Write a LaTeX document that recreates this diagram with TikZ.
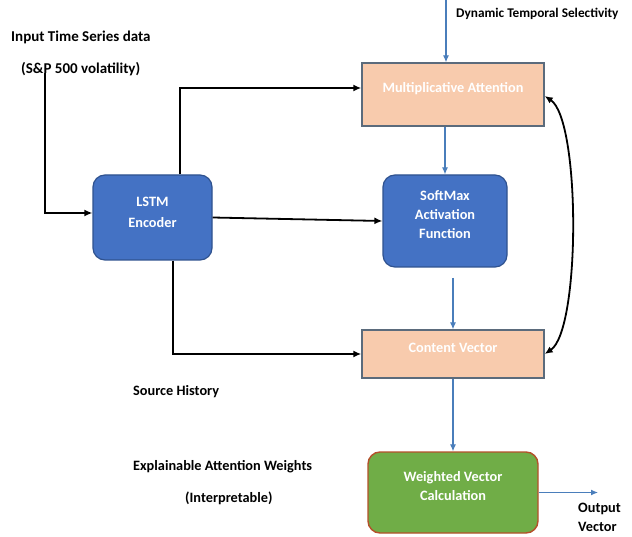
\documentclass[tikz,border=0pt]{standalone}
\usepackage{fontspec}
\setmainfont{Carlito}
\usetikzlibrary{arrows.meta}
\definecolor{peach}{HTML}{F8CBAD}
\definecolor{peachline}{HTML}{5B6B7C}
\definecolor{boxblue}{HTML}{4472C4}
\definecolor{boxblueline}{HTML}{2F528F}
\definecolor{boxgreen}{HTML}{70AD47}
\definecolor{greenline}{HTML}{B4502A}
\definecolor{arrblue}{HTML}{4A7EBB}
\begin{document}
\begin{tikzpicture}[x=1pt,y=-1pt,
  every node/.style={font=\bfseries\fontsize{14.3}{17}\selectfont, inner sep=0pt},
  lbl/.style={anchor=west, text=black},
  peachbox/.style={draw=peachline, line width=1.4pt, fill=peach, text=white},
  bluebox/.style={draw=boxblueline, line width=1.2pt, fill=boxblue, text=white, rounded corners=12pt, align=center},
  greenbox/.style={draw=greenline, line width=1.4pt, fill=boxgreen, text=white, rounded corners=12pt, align=center},
  blk/.style={draw=black, line width=1.8pt, -{Latex[length=8pt,width=7pt]}},
  blu/.style={draw=arrblue, line width=1.1pt, -{Latex[length=7pt,width=6pt]}},
]
\useasboundingbox[fill=white] (0,0) rectangle (632,537);

% boxes
\node[peachbox, minimum width=182pt, minimum height=63pt, text depth=14pt] (MA) at (453,94.5) {Multiplicative Attention};
\node[peachbox, minimum width=182pt, minimum height=48pt, text depth=12pt] (CV) at (453,354) {Content Vector};
\node[bluebox, minimum width=119pt, minimum height=85pt, text height=30.2pt, text depth=10pt] (LSTM) at (152.5,217.5) {LSTM\\[4pt]Encoder};
\node[bluebox, minimum width=124pt, minimum height=92pt, text height=45.2pt, text depth=10pt] (SM) at (445,221) {SoftMax\\[2pt]Activation\\[2pt]Function};
\node[greenbox, minimum width=170pt, minimum height=81pt, text height=26.2pt, text depth=10pt] (WV) at (453,492.5) {Weighted Vector\\[2pt]Calculation};

% labels
\node[lbl, font=\bfseries\fontsize{13.3}{16}\selectfont] (ltop) at (456,14) {Dynamic Temporal Selectivity};
\node[lbl, font=\bfseries\fontsize{15}{18}\selectfont] (lin1) at (11,37) {Input Time Series data};
\node[lbl, font=\bfseries\fontsize{15}{18}\selectfont] (lin2) at (21,69) {(S\&P 500 volatility)};
\node[lbl] (lsrc) at (133,392) {Source History};
\node[lbl] (lexp) at (133,467) {Explainable Attention Weights};
\node[lbl] (lint) at (185,498) {(Interpretable)};
\node[lbl, align=left] (lout) at (578,517) {Output\\[2pt]Vector};

% coordinates
\coordinate (dtop) at (446,0);
\coordinate (instart) at (45,73);
\coordinate (smout) at (453,278);
\coordinate (outend) at (598,492.5);

% blue arrows
\draw[blu] (dtop) -- (dtop |- MA.north);
\draw[blu] (SM.north |- MA.south) -- (SM.north);
\draw[blu] (smout) -- (smout |- CV.north);
\draw[blu] (CV.south) -- (WV.north);
\draw[blu] (WV.east) -- (outend);

% black arrows
\draw[blk] (instart) |- ([yshift=4.5pt]LSTM.west);
\draw[blk] ([xshift=27.5pt]LSTM.north) |- ([yshift=6.5pt]MA.west);
\draw[blk] (LSTM.east) -- (SM.west);
\draw[blk] ([xshift=20.5pt]LSTM.south) |- (CV.west);
\draw[draw=black, line width=1.8pt, {Latex[length=8pt,width=7pt]}-{Latex[length=8pt,width=7pt]}]
  ([yshift=-1.5pt]MA.east) .. controls +(36,24) and +(36,-24) .. (CV.east);
\end{tikzpicture}
\end{document}
